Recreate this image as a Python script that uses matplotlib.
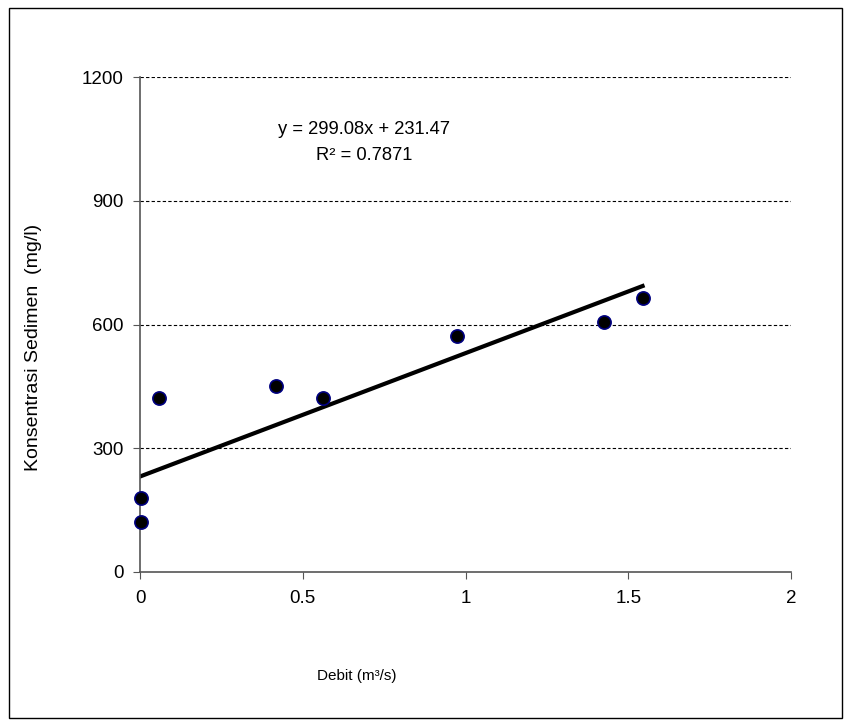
import numpy as np
import matplotlib.pyplot as plt
from matplotlib.patches import Rectangle

# data
debit = [0.004, 0.004, 0.057, 0.418, 0.561, 0.973, 1.426, 1.544]
konsentrasi = [122, 180, 423, 452, 423, 573, 605, 664]
slope = 299.08
intercept = 231.47
r2 = 0.7871
yticks = [0, 300, 600, 900, 1200]
xticks = [0, 0.5, 1, 1.5, 2]

plt.rcParams['font.family'] = ['Liberation Sans', 'DejaVu Sans']

fig = plt.figure(figsize=(8.51, 7.27), dpi=100)
ax = fig.add_axes([140/851, 1-572/727, 651/851, 495/727])

# trendline over the data range
xl = np.array([min(debit), max(debit)])
ax.plot(xl, slope*xl + intercept, color='black', lw=3, zorder=2)
ax.plot(debit, konsentrasi, 'o', ms=9.5, mfc='black', mec='#000080', mew=1.2, zorder=3, clip_on=False)

ax.set_xlim(0, 2)
ax.set_ylim(0, 1200)
ax.set_xticks(xticks)
ax.set_xticklabels(['0', '0.5', '1', '1.5', '2'])
ax.set_yticks(yticks)
for y in yticks[1:]:
    ax.axhline(y, color='black', lw=0.8, ls=(0, (3, 2)), zorder=1)

for s in ['top', 'right']:
    ax.spines[s].set_visible(False)
for s in ['left', 'bottom']:
    ax.spines[s].set_color('#555555')
    ax.spines[s].set_linewidth(1.2)
ax.tick_params(axis='both', direction='out', length=5, color='#555555', labelsize=13.5)
ax.tick_params(axis='y', pad=7)
ax.tick_params(axis='x', pad=8)

ax.text(364/851, 1-129/727, 'y = 299.08x + 231.47', transform=fig.transFigure,
        ha='center', va='center', fontsize=13.2)
ax.text(364/851, 1-156/727, 'R² = 0.7871', transform=fig.transFigure,
        ha='center', va='center', fontsize=13.2)

fig.text(34/851, 1-347/727, 'Konsentrasi Sedimen  (mg/l)', rotation=90,
         ha='center', va='center', fontsize=14)
fig.text(357/851, 1-676/727, 'Debit (m³/s)', ha='center', va='center', fontsize=11)

fig.patches.append(Rectangle((9/851, 9/727), 833/851, 710/727, transform=fig.transFigure,
                             fill=False, edgecolor='black', lw=1))

fig.savefig('out.png', dpi=100)
